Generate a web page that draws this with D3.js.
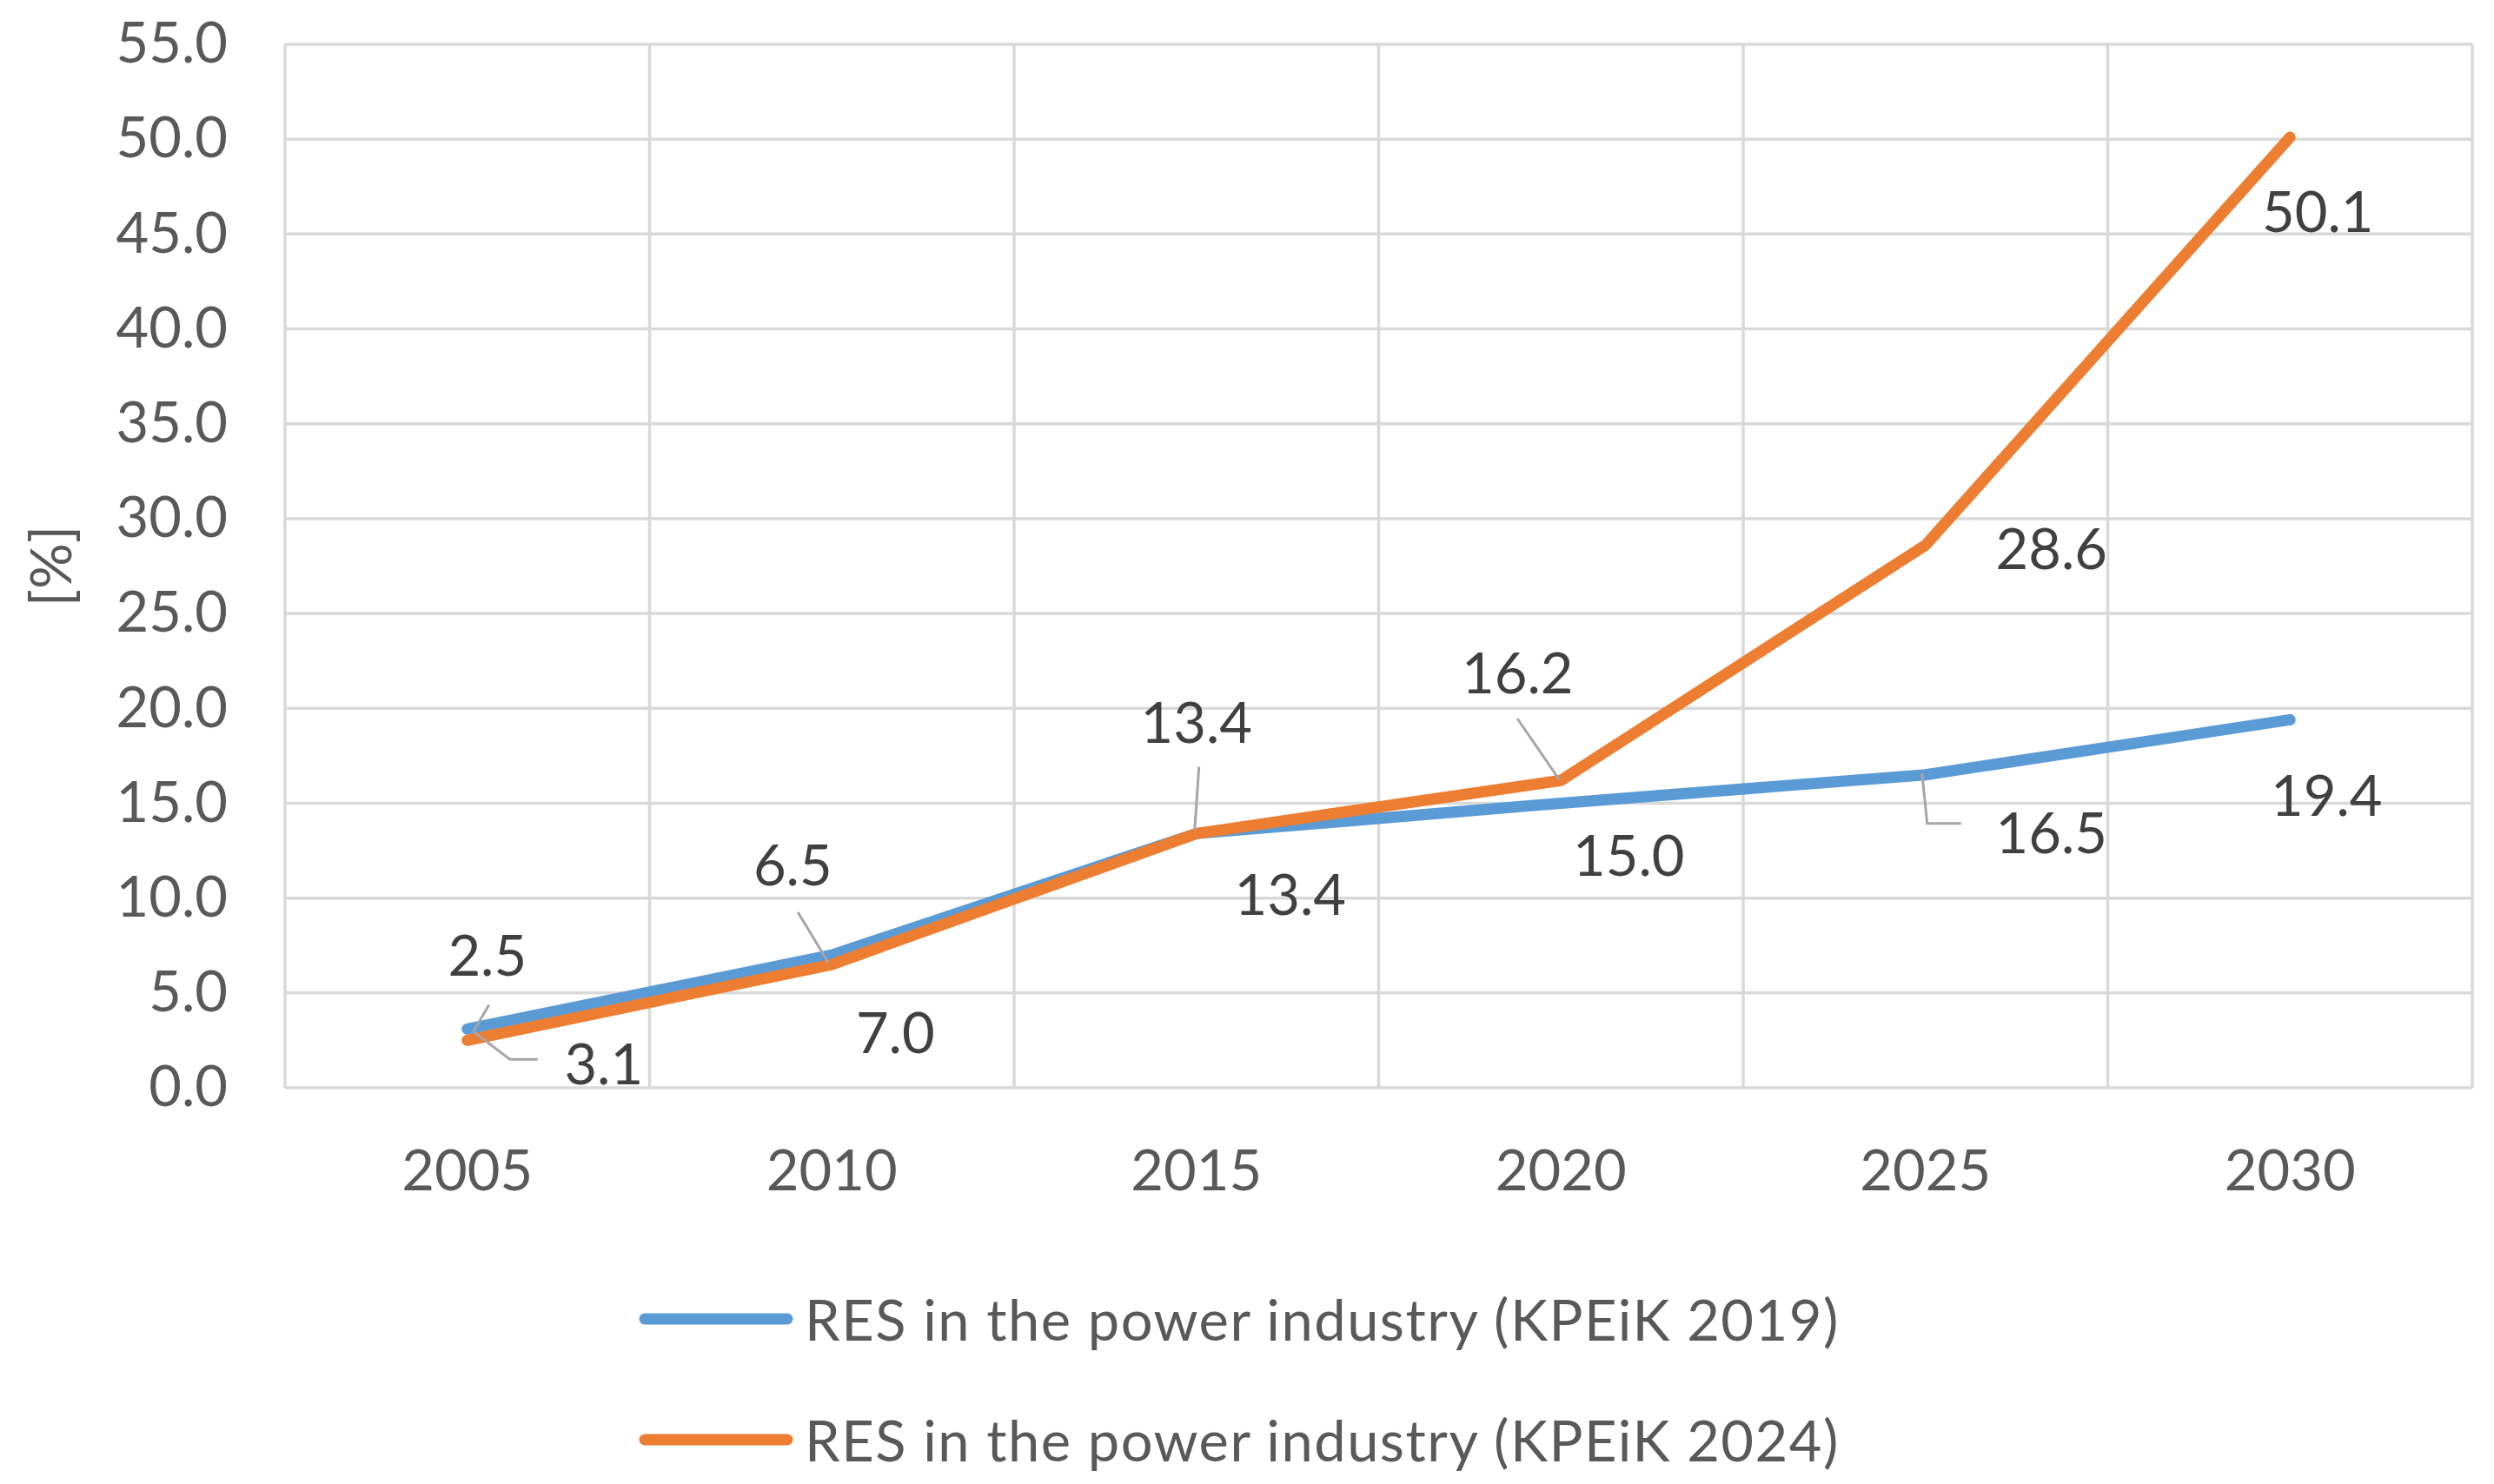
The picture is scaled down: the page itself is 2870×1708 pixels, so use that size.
<!DOCTYPE html>
<html><head><meta charset="utf-8">
<script src="https://cdn.jsdelivr.net/npm/d3@7"></script>
<style>html,body{margin:0;padding:0;background:#fff;}svg{display:block;}</style>
</head><body>
<svg id="chart" width="2870" height="1708"></svg>
<script>
// ---- data ----
const categories = ["2005", "2010", "2015", "2020", "2025", "2030"];
const res2019 = [3.1, 7.0, 13.4, 15.0, 16.5, 19.4];
const res2024 = [2.5, 6.5, 13.4, 16.2, 28.6, 50.1];
const yTicks = [0, 5, 10, 15, 20, 25, 30, 35, 40, 45, 50, 55];
const seriesNames = ["RES in the power industry (KPEiK 2019)", "RES in the power industry (KPEiK 2024)"];
const yTitle = "[%]";

// ---- layout (label offsets relative to their point, in px) ----
const labelOff2019 = [[157,39],[73,88],[108,69],[78,59],[145,65],[42,86]];
const labelOff2024 = [[23,-99],[-45,-116],[0,-129],[-50,-125],[145,3],[32,84]];
const leaders2019 = {0: [[7,3],[49,35],[81,35]], 4: [[-4,-2],[2,56],[41,56]]};
const leaders2024 = {0: [[25,-41],[7,-10]], 1: [[-39,-60],[-4,-2]], 2: [[3,-77],[-2,-4]], 3: [[-50,-71],[-2,-1]]};

const W = 2870, H = 1708;
const plot = {left: 328, right: 2845, top: 51, bottom: 1252};
const FONT = "Lato, 'Open Sans', sans-serif";
const colors = ["#5B9BD5", "#ED7D31"];
const gridColor = "#d9d9d9";
const textColor = "#595959";
const labelColor = "#404040";

const svg = d3.select("#chart");
svg.append("rect").attr("width", W).attr("height", H).attr("fill", "#fff");

const x = d3.scaleBand().domain(categories).range([plot.left, plot.right]);
const y = d3.scaleLinear().domain([0, 55]).range([plot.bottom, plot.top]);
const cx = c => x(c) + x.bandwidth() / 2;

// gridlines
const g = svg.append("g");
g.selectAll("line.h").data(yTicks).join("line")
  .attr("x1", plot.left).attr("x2", plot.right)
  .attr("y1", d => y(d)).attr("y2", d => y(d))
  .attr("stroke", gridColor).attr("stroke-width", 3.5);
const vb = categories.map(c => x(c)).concat([plot.right]);
g.selectAll("line.v").data(vb).join("line")
  .attr("x1", d => d).attr("x2", d => d)
  .attr("y1", plot.top).attr("y2", plot.bottom)
  .attr("stroke", gridColor).attr("stroke-width", 3.5);

// y axis labels
const yAxis = d3.axisLeft(y).tickValues(yTicks).tickFormat(d3.format(".1f")).tickSize(0).tickPadding(66);
const ya = svg.append("g").attr("transform", `translate(${plot.left},0)`).call(yAxis);
ya.select(".domain").remove();
ya.selectAll("text").attr("font-family", FONT).attr("font-size", 65).attr("fill", textColor);

// x axis labels
const xAxis = d3.axisBottom(x).tickSize(0).tickPadding(72);
const xa = svg.append("g").attr("transform", `translate(0,${plot.bottom})`).call(xAxis);
xa.select(".domain").remove();
xa.selectAll("text").attr("font-family", FONT).attr("font-size", 65).attr("fill", textColor);

// y title
svg.append("text").attr("transform", `translate(56,${(plot.top + plot.bottom) / 2}) rotate(-90)`)
  .attr("text-anchor", "middle").attr("dominant-baseline", "central")
  .attr("font-family", FONT).attr("font-size", 66).attr("fill", textColor).text(yTitle);

// lines
const line = d3.line().x((d, i) => cx(categories[i])).y(d => y(d));
[res2019, res2024].forEach((vals, k) => {
  svg.append("path").datum(vals).attr("d", line)
    .attr("fill", "none").attr("stroke", colors[k]).attr("stroke-width", 13)
    .attr("stroke-linejoin", "round").attr("stroke-linecap", "round");
});

// leader lines and data labels
function drawLabels(vals, offs, leaders) {
  vals.forEach((v, i) => {
    const px = cx(categories[i]), py = y(v);
    if (leaders[i]) {
      svg.append("path")
        .attr("d", d3.line()(leaders[i].map(p => [px + p[0], py + p[1]])))
        .attr("fill", "none").attr("stroke", "#a6a6a6").attr("stroke-width", 3);
    }
    svg.append("text").attr("x", px + offs[i][0]).attr("y", py + offs[i][1])
      .attr("text-anchor", "middle").attr("dominant-baseline", "central")
      .attr("font-family", FONT).attr("font-size", 65).attr("fill", labelColor)
      .text(d3.format(".1f")(v));
  });
}
drawLabels(res2019, labelOff2019, leaders2019);
drawLabels(res2024, labelOff2024, leaders2024);

// legend
const legY = [1518, 1657];
seriesNames.forEach((name, k) => {
  svg.append("line").attr("x1", 742).attr("x2", 906).attr("y1", legY[k]).attr("y2", legY[k])
    .attr("stroke", colors[k]).attr("stroke-width", 13).attr("stroke-linecap", "round");
  svg.append("text").attr("x", 926).attr("y", legY[k]).attr("dominant-baseline", "central")
    .attr("font-family", FONT).attr("font-size", 65).attr("letter-spacing", 1.5)
    .attr("fill", textColor).text(name);
});
</script>
</body></html>
